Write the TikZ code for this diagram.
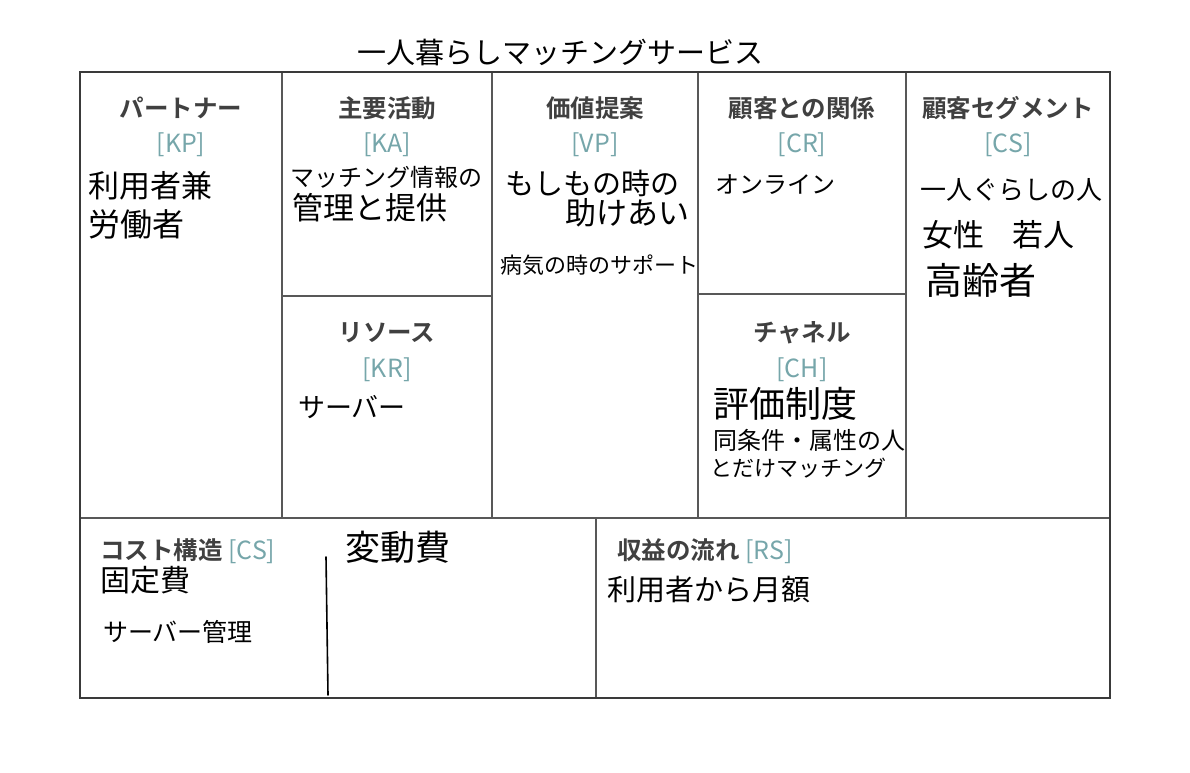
\documentclass[tikz,border=0pt]{standalone}
\usepackage{fontspec}
\setmainfont{Noto Sans CJK JP}[BoldFont={Noto Sans CJK JP Bold}]
\usetikzlibrary{positioning}
\definecolor{framegray}{RGB}{58,58,58}
\definecolor{headgray}{RGB}{64,64,64}
\definecolor{codeteal}{RGB}{118,166,170}

\begin{document}
\begin{tikzpicture}[x=1pt, y=-1pt,
		frame/.style={draw=framegray, line width=2.6pt},
		divider/.style={draw=framegray!85, line width=1.4pt},
		head/.style={font=\fontsize{24.5}{28}\selectfont\bfseries, text=headgray, inner sep=0pt},
		code/.style={font=\fontsize{25}{28}\selectfont, text=codeteal, inner sep=0pt},
		hand/.style={font=\fontsize{24}{28}\selectfont, anchor=west, inner sep=0pt},
		pen/.style={line width=1.6pt, line cap=round}
	]
	\useasboundingbox (0,0) rectangle (1190,772);
	% canvas frame and dividers
	\draw[divider] (282,72) -- (282,518);
	\draw[divider] (492,72) -- (492,518);
	\draw[divider] (698,72) -- (698,518);
	\draw[divider] (906,72) -- (906,518);
	\draw[divider] (80,518) -- (1110,518);
	\draw[divider] (282,296) -- (492,296);
	\draw[divider] (698,294) -- (906,294);
	\draw[divider] (596,518) -- (596,698);
	\draw[frame] (80,72) rectangle (1110,698);
	
	% title
	\node[font=\fontsize{29}{32}\selectfont, inner sep=0pt] (title) at (560,52) {一人暮らしマッチングサービス};
	
	% headers
	\node[head] (kp) at (181,108) {パートナー};
	\node[code] (kpc) at (181,145) {[KP]};
	\node[head] (ka) at (387,108) {主要活動};
	\node[code] (kac) at (387,145) {[KA]};
	\node[head] (vp) at (595,108) {価値提案};
	\node[code] (vpc) at (595,145) {[VP]};
	\node[head] (cr) at (802,108) {顧客との関係};
	\node[code] (crc) at (802,145) {[CR]};
	\node[head] (cs) at (1008,108) {顧客セグメント};
	\node[code] (csc) at (1008,145) {[CS]};
	\node[head] (kr) at (387,333) {リソース};
	\node[code] (krc) at (387,370) {[KR]};
	\node[head] (ch) at (802,333) {チャネル};
	\node[code] (chc) at (802,370) {[CH]};
	\node[head, anchor=west] (cost) at (100,551) {コスト構造 \textcolor{codeteal}{\mdseries\fontsize{25}{28}\selectfont [CS]}};
	\node[head, anchor=west] (rs) at (617,551) {収益の流れ \textcolor{codeteal}{\mdseries\fontsize{25}{28}\selectfont [RS]}};
	
	% handwritten notes
	\node[hand, font=\fontsize{31}{34}\selectfont] (kp1) at (88,186) {利用者兼};
	\node[hand, font=\fontsize{32}{35}\selectfont] (kp2) at (88,224) {労働者};
	\node[hand] (ka1) at (290,177) {マッチング情報の};
	\node[hand, font=\fontsize{31}{34}\selectfont] (ka2) at (292,208) {管理と提供};
	\node[hand, font=\fontsize{29}{32}\selectfont] (vp1) at (505,183) {もしもの時の};
	\node[hand, font=\fontsize{31}{34}\selectfont] (vp2) at (565,213) {助けあい};
	\node[hand, font=\fontsize{22}{25}\selectfont] (vp3) at (500,265) {病気の時のサポート};
	\node[hand] (cr1) at (715,185) {オンライン};
	\node[hand, font=\fontsize{26}{29}\selectfont] (cs1) at (920,190) {一人ぐらしの人};
	\node[hand, font=\fontsize{31}{34}\selectfont] (cs2) at (922,235) {女性\hspace{0.9em}若人};
	\node[hand, font=\fontsize{37}{40}\selectfont] (cs3) at (925,280) {高齢者};
	\node[hand, font=\fontsize{27}{30}\selectfont] (kr1) at (298,407) {サーバー};
	\node[hand, font=\fontsize{36}{39}\selectfont] (ch1) at (713,404) {評価制度};
	\node[hand] (ch2) at (713,440) {同条件・属性の人};
	\node[hand, font=\fontsize{22}{25}\selectfont] (ch3) at (710,468) {とだけマッチング};
	\node[hand, font=\fontsize{30}{33}\selectfont] (cost1) at (100,580) {固定費};
	\node[hand, font=\fontsize{25}{28}\selectfont] (cost2) at (103,632) {サーバー管理};
	\node[hand, font=\fontsize{35}{38}\selectfont] (cost3) at (345,547) {変動費};
	\node[hand, font=\fontsize{29}{32}\selectfont] (rs1) at (607,590) {利用者から月額};
	
	% hand-drawn split in the cost block
	\coordinate (splittop) at (326,557);
	\coordinate (splitbot) at (328,695);
	\draw[pen] (splittop) -- (splitbot);
\end{tikzpicture}
\end{document}
